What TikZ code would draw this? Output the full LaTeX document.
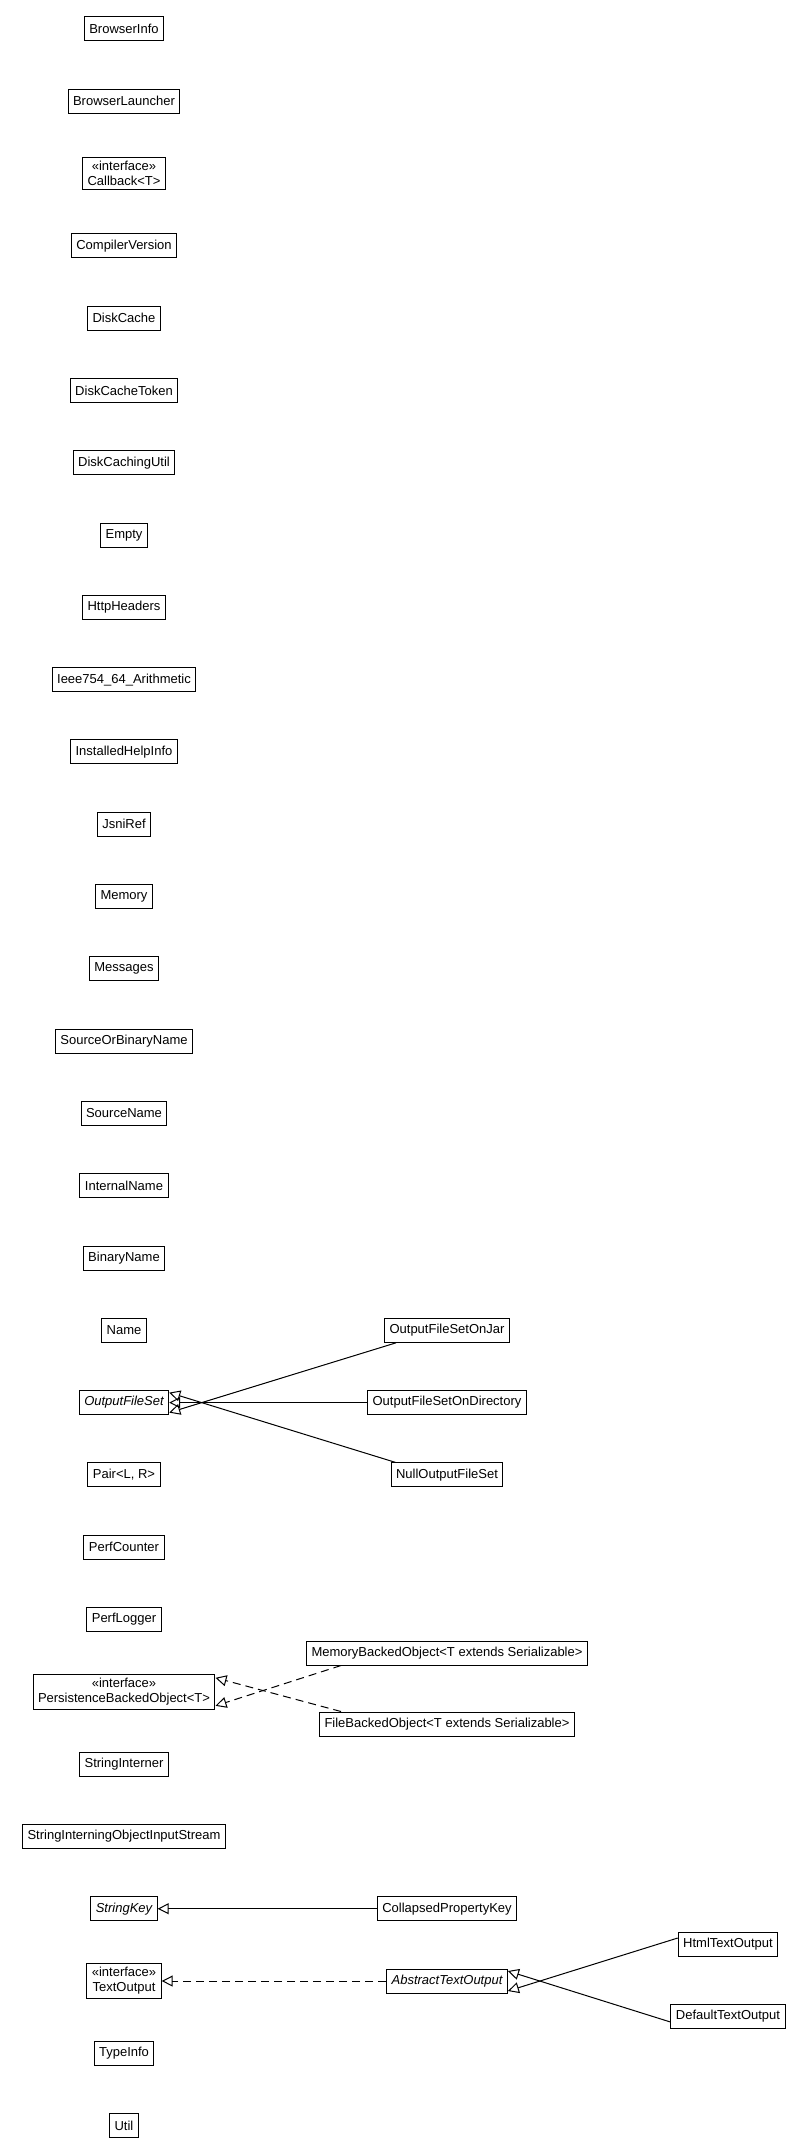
\documentclass[tikz,border=0pt]{standalone}
\usepackage{fontspec}
\setmainfont{Liberation Sans}
\usetikzlibrary{arrows.meta}
\begin{document}
\begin{tikzpicture}[x=1pt,y=-1pt,
  cls/.style={draw,line width=1pt,font=\fontsize{13}{15}\selectfont,inner xsep=5pt,inner ysep=4pt,minimum height=24pt,align=center},
  gen/.style={line width=1pt,-{Triangle[open,length=11pt,width=11pt]}},
  real/.style={gen,dashed,dash pattern=on 8pt off 5pt}]
\useasboundingbox (0,0) rectangle (804,2155);
\def\L{124}\def\R{447}
\foreach \n/\t [count=\i from 0] in {a/BrowserInfo,b/BrowserLauncher,c/{\guillemotleft interface\guillemotright\\Callback<T>},d/CompilerVersion,e/DiskCache,f/DiskCacheToken,g/DiskCachingUtil,h/Empty,ii/HttpHeaders,j/Ieee754\_64\_Arithmetic,k/InstalledHelpInfo,l/JsniRef,m/Memory,nn/Messages,o/SourceOrBinaryName,p/SourceName,q/InternalName,r/BinaryName,s/Name,t/{\itshape OutputFileSet},u/{Pair<L, R>},v/PerfCounter,w/PerfLogger,x/{\guillemotleft interface\guillemotright\\PersistenceBackedObject<T>},y/StringInterner,z/StringInterningObjectInputStream,sk/{\itshape StringKey},to/{\guillemotleft interface\guillemotright\\TextOutput},ti/TypeInfo,ut/Util}
  \node[cls] (\n) at (\L,{28.9+72.3*\i}) {\t};
\node[cls] (jar) at (\R,{28.9+72.3*18}) {OutputFileSetOnJar};
\node[cls] (dir) at (\R,{28.9+72.3*19}) {OutputFileSetOnDirectory};
\node[cls] (null) at (\R,{28.9+72.3*20}) {NullOutputFileSet};
\node[cls] (mem) at (\R,1653) {MemoryBackedObject<T extends Serializable>};
\node[cls] (fil) at (\R,1724) {FileBackedObject<T extends Serializable>};
\node[cls] (cpk) at (\R,{28.9+72.3*26}) {CollapsedPropertyKey};
\node[cls] (ato) at (\R,{28.9+72.3*27}) {\itshape AbstractTextOutput};
\node[cls] (html) at (728,1944) {HtmlTextOutput};
\node[cls] (def) at (728,2016) {DefaultTextOutput};
\draw[gen] (jar.south west)++(12,0) -- ([yshift=-10pt]t.east);
\draw[gen] (dir) -- (t);
\draw[gen] (null.north west)++(5,0) -- ([yshift=10pt]t.east);
\draw[real] (mem.south west)++(35,0) -- ([yshift=-14pt]x.east);
\draw[real] (fil.north west)++(22,0) -- ([yshift=14pt]x.east);
\draw[gen] (cpk) -- (sk);
\draw[real] (ato) -- (to);
\draw[gen] (html.west)++(0,-6) -- ([yshift=-10pt]ato.east);
\draw[gen] (def.west)++(0,6) -- ([yshift=10pt]ato.east);
\end{tikzpicture}
\end{document}
